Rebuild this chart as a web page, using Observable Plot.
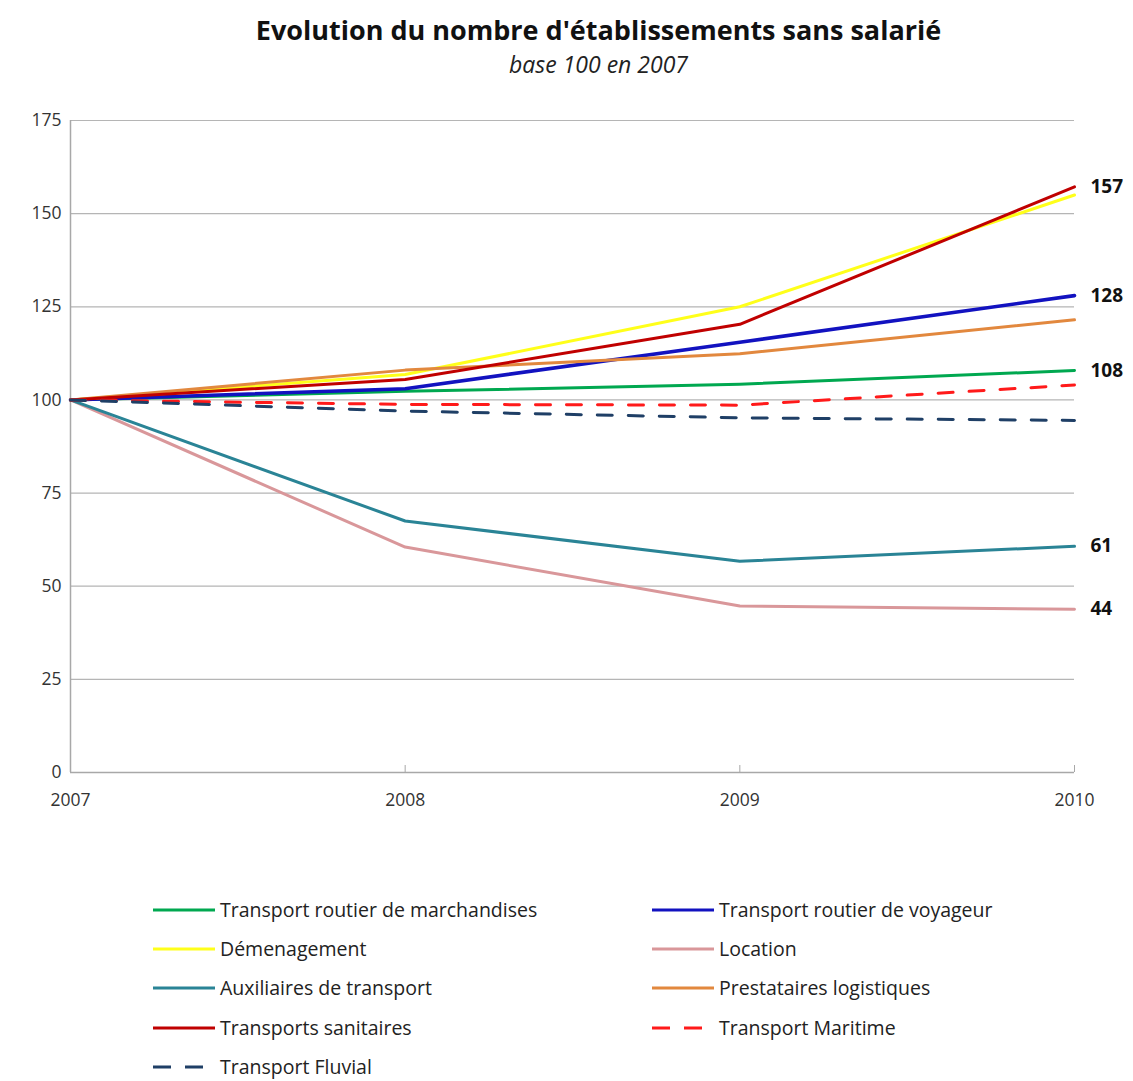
<!DOCTYPE html>
<html>
<head>
<meta charset="utf-8">
<script src="https://cdn.jsdelivr.net/npm/d3@7"></script>
<script src="https://cdn.jsdelivr.net/npm/@observablehq/plot@0.6"></script>
<style>
  html, body { margin: 0; padding: 0; background: #fff; }
  body { width: 1133px; height: 1081px; position: relative; font-family: "Open Sans", sans-serif; overflow: hidden; }
  #title { position: absolute; top: 11px; left: 32px; width: 1133px; text-align: center; font-weight: bold; font-size: 27px; color: #111; line-height: 38px; }
  #subtitle { position: absolute; top: 48px; left: 32px; width: 1133px; text-align: center; font-style: italic; font-size: 23px; color: #222; line-height: 32px; }
  #chart { position: absolute; top: 100px; left: 0; }
  #legend { position: absolute; top: 896px; left: 0; width: 1133px; }
  .item { position: absolute; display: flex; align-items: center; font-size: 19.5px; color: #222; height: 28px; line-height: 28px; }
  .item svg { margin-right: 5px; }
</style>
</head>
<body>
<div id="title">Evolution du nombre d'établissements sans salarié</div>
<div id="subtitle">base 100 en 2007</div>
<div id="chart"></div>
<div id="legend"></div>
<script>
const years = [2007, 2008, 2009, 2010];
const yTicks = [0, 25, 50, 75, 100, 125, 150, 175];

const seriesNames = [
  "Transport routier de marchandises",
  "Transport routier de voyageur",
  "Démenagement",
  "Location",
  "Auxiliaires de transport",
  "Prestataires logistiques",
  "Transports sanitaires",
  "Transport Maritime",
  "Transport Fluvial"
];
const marchandisesVals = [100, 102.3, 104.2, 107.9];
const voyageurVals     = [100, 103.0, 115.5, 128.0];
const demenagementVals = [100, 106.8, 125.0, 155.0];
const locationVals     = [100, 60.5, 44.7, 43.8];
const auxiliairesVals  = [100, 67.5, 56.7, 60.7];
const prestatairesVals = [100, 108.0, 112.4, 121.5];
const sanitairesVals   = [100, 105.5, 120.3, 157.2];
const maritimeVals     = [100, 98.8, 98.6, 104.0];
const fluvialVals      = [100, 97.0, 95.2, 94.5];
const seriesValues = [marchandisesVals, voyageurVals, demenagementVals, locationVals, auxiliairesVals, prestatairesVals, sanitairesVals, maritimeVals, fluvialVals];
const colors = ["#00A850", "#1212C0", "#FFFF1A", "#D9979A", "#2A8496", "#E2883E", "#C00000", "#FF1A1A", "#1F3F66"];
const widths = [3, 3.6, 3, 3, 3, 3, 3, 3, 3];
const dashed = [false, false, false, false, false, false, false, true, true];
const labelled = ["Transports sanitaires", "Transport routier de voyageur", "Transport routier de marchandises", "Auxiliaires de transport", "Location"];

const rows = [];
seriesNames.forEach((name, i) => {
  seriesValues[i].forEach((v, j) => rows.push({name, year: years[j], value: v}));
});
const lastRows = rows.filter(d => d.year === years[years.length - 1] && labelled.includes(d.name));

const lineMarks = seriesNames.map((name, i) =>
  Plot.line(rows.filter(d => d.name === name), {
    x: "year", y: "value",
    stroke: colors[i], strokeWidth: widths[i],
    strokeDasharray: dashed[i] ? "15,16" : null,
    strokeLinejoin: "round"
  })
);

const plot = Plot.plot({
  width: 1133,
  height: 720,
  marginLeft: 70,
  marginRight: 59,
  marginTop: 20,
  marginBottom: 48,
  style: {fontFamily: "Open Sans, sans-serif", fontSize: "17px", color: "#333", background: "#fff"},
  x: {domain: [2007, 2010], ticks: years, tickFormat: d => String(d), label: null},
  y: {domain: [0, 175], ticks: yTicks, label: null},
  marks: [
    Plot.gridY(yTicks.filter(t => t > 0), {stroke: "#b5b5b5", strokeOpacity: 1, strokeWidth: 1.2}),
    Plot.ruleY([0], {stroke: "#a8a8a8", strokeWidth: 1.5}),
    Plot.ruleX([2007], {stroke: "#a8a8a8", strokeWidth: 1.5}),
    Plot.axisY({ticks: yTicks, tickSize: 0, tickPadding: 9, fontSize: 17.5, fill: "#333"}),
    Plot.axisX({ticks: years, tickSize: -7, tickPadding: 28, tickFormat: d => String(d), fontSize: 17.5, fill: "#333", stroke: "#a8a8a8"}),
    ...lineMarks,
    Plot.text(lastRows, {x: "year", y: "value", text: d => String(Math.round(d.value)), dx: 16, textAnchor: "start", fontWeight: "bold", fontSize: 19, fill: "#111"})
  ]
});
document.getElementById("chart").appendChild(plot);

// Legend
const legend = document.getElementById("legend");
seriesNames.forEach((name, i) => {
  const col = i % 2, row = Math.floor(i / 2);
  const div = document.createElement("div");
  div.className = "item";
  div.style.left = (col === 0 ? 153 : 652) + "px";
  div.style.top = (row * 39.2) + "px";
  const sw = d3.create("svg").attr("width", 62).attr("height", 10);
  sw.append("line").attr("x1", 0).attr("x2", 62).attr("y1", 5).attr("y2", 5)
    .attr("stroke", colors[i]).attr("stroke-width", 3.2)
    .attr("stroke-dasharray", dashed[i] ? "18,14" : null);
  div.appendChild(sw.node());
  const span = document.createElement("span");
  span.textContent = name;
  div.appendChild(span);
  legend.appendChild(div);
});
</script>
</body>
</html>
